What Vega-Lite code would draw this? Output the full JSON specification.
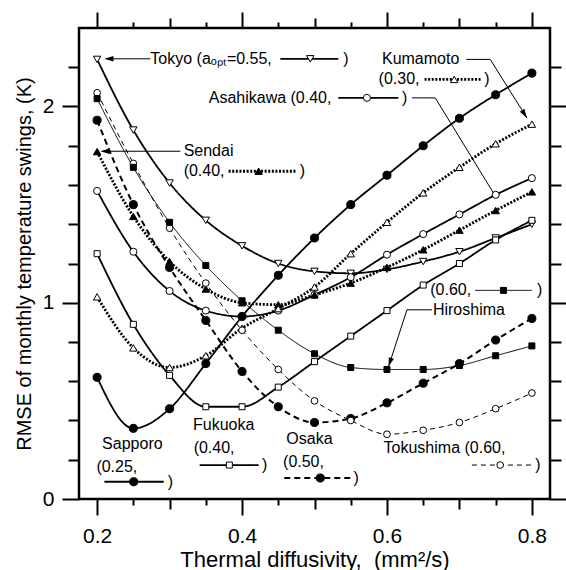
{
  "$schema": "https://vega.github.io/schema/vega-lite/v6.json",
  "width": 471,
  "height": 471,
  "autosize": {"type": "none"},
  "padding": {"left": 79, "top": 28, "right": 16, "bottom": 71},
  "background": "white",
  "config": {
    "view": {"stroke": "black", "strokeWidth": 2.5},
    "axis": {"grid": false, "domain": false, "tickColor": "black", "tickWidth": 2, "labelColor": "black", "titleColor": "black", "labelFont": "Liberation Sans", "titleFont": "Liberation Sans", "labelFontSize": 21, "titleFontSize": 21, "titleFontWeight": "normal"},
    "text": {"font": "Liberation Sans"}
  },
  "resolve": {"axis": {"x": "independent", "y": "independent"}},
  "datasets": {
    "series": [
      {"city": "Tokyo", "x": 0.2, "y": 2.24}, {"city": "Tokyo", "x": 0.25, "y": 1.88}, {"city": "Tokyo", "x": 0.3, "y": 1.61}, {"city": "Tokyo", "x": 0.35, "y": 1.42}, {"city": "Tokyo", "x": 0.4, "y": 1.29}, {"city": "Tokyo", "x": 0.45, "y": 1.2}, {"city": "Tokyo", "x": 0.5, "y": 1.16}, {"city": "Tokyo", "x": 0.55, "y": 1.15}, {"city": "Tokyo", "x": 0.6, "y": 1.17}, {"city": "Tokyo", "x": 0.65, "y": 1.21}, {"city": "Tokyo", "x": 0.7, "y": 1.26}, {"city": "Tokyo", "x": 0.75, "y": 1.33}, {"city": "Tokyo", "x": 0.8, "y": 1.4},
      {"city": "Asahikawa", "x": 0.2, "y": 1.57}, {"city": "Asahikawa", "x": 0.25, "y": 1.26}, {"city": "Asahikawa", "x": 0.3, "y": 1.06}, {"city": "Asahikawa", "x": 0.35, "y": 0.96}, {"city": "Asahikawa", "x": 0.4, "y": 0.93}, {"city": "Asahikawa", "x": 0.45, "y": 0.96}, {"city": "Asahikawa", "x": 0.5, "y": 1.04}, {"city": "Asahikawa", "x": 0.55, "y": 1.13}, {"city": "Asahikawa", "x": 0.6, "y": 1.245}, {"city": "Asahikawa", "x": 0.65, "y": 1.35}, {"city": "Asahikawa", "x": 0.7, "y": 1.45}, {"city": "Asahikawa", "x": 0.75, "y": 1.55}, {"city": "Asahikawa", "x": 0.8, "y": 1.635},
      {"city": "Sendai", "x": 0.2, "y": 1.77}, {"city": "Sendai", "x": 0.25, "y": 1.44}, {"city": "Sendai", "x": 0.3, "y": 1.21}, {"city": "Sendai", "x": 0.35, "y": 1.07}, {"city": "Sendai", "x": 0.4, "y": 1.0}, {"city": "Sendai", "x": 0.45, "y": 0.99}, {"city": "Sendai", "x": 0.5, "y": 1.04}, {"city": "Sendai", "x": 0.55, "y": 1.1}, {"city": "Sendai", "x": 0.6, "y": 1.18}, {"city": "Sendai", "x": 0.65, "y": 1.27}, {"city": "Sendai", "x": 0.7, "y": 1.37}, {"city": "Sendai", "x": 0.75, "y": 1.47}, {"city": "Sendai", "x": 0.8, "y": 1.565},
      {"city": "Kumamoto", "x": 0.2, "y": 1.03}, {"city": "Kumamoto", "x": 0.25, "y": 0.77}, {"city": "Kumamoto", "x": 0.3, "y": 0.67}, {"city": "Kumamoto", "x": 0.35, "y": 0.73}, {"city": "Kumamoto", "x": 0.4, "y": 0.87}, {"city": "Kumamoto", "x": 0.45, "y": 0.97}, {"city": "Kumamoto", "x": 0.5, "y": 1.08}, {"city": "Kumamoto", "x": 0.55, "y": 1.25}, {"city": "Kumamoto", "x": 0.6, "y": 1.41}, {"city": "Kumamoto", "x": 0.65, "y": 1.56}, {"city": "Kumamoto", "x": 0.7, "y": 1.69}, {"city": "Kumamoto", "x": 0.75, "y": 1.81}, {"city": "Kumamoto", "x": 0.8, "y": 1.91},
      {"city": "Sapporo", "x": 0.2, "y": 0.62}, {"city": "Sapporo", "x": 0.25, "y": 0.36}, {"city": "Sapporo", "x": 0.3, "y": 0.46}, {"city": "Sapporo", "x": 0.35, "y": 0.69}, {"city": "Sapporo", "x": 0.4, "y": 0.93}, {"city": "Sapporo", "x": 0.45, "y": 1.14}, {"city": "Sapporo", "x": 0.5, "y": 1.33}, {"city": "Sapporo", "x": 0.55, "y": 1.5}, {"city": "Sapporo", "x": 0.6, "y": 1.65}, {"city": "Sapporo", "x": 0.65, "y": 1.8}, {"city": "Sapporo", "x": 0.7, "y": 1.94}, {"city": "Sapporo", "x": 0.75, "y": 2.06}, {"city": "Sapporo", "x": 0.8, "y": 2.17},
      {"city": "Fukuoka", "x": 0.2, "y": 1.25}, {"city": "Fukuoka", "x": 0.25, "y": 0.89}, {"city": "Fukuoka", "x": 0.3, "y": 0.63}, {"city": "Fukuoka", "x": 0.35, "y": 0.47}, {"city": "Fukuoka", "x": 0.4, "y": 0.47}, {"city": "Fukuoka", "x": 0.45, "y": 0.57}, {"city": "Fukuoka", "x": 0.5, "y": 0.7}, {"city": "Fukuoka", "x": 0.55, "y": 0.83}, {"city": "Fukuoka", "x": 0.6, "y": 0.96}, {"city": "Fukuoka", "x": 0.65, "y": 1.09}, {"city": "Fukuoka", "x": 0.7, "y": 1.2}, {"city": "Fukuoka", "x": 0.75, "y": 1.32}, {"city": "Fukuoka", "x": 0.8, "y": 1.42},
      {"city": "Osaka", "x": 0.2, "y": 1.93}, {"city": "Osaka", "x": 0.25, "y": 1.5}, {"city": "Osaka", "x": 0.3, "y": 1.18}, {"city": "Osaka", "x": 0.35, "y": 0.91}, {"city": "Osaka", "x": 0.4, "y": 0.65}, {"city": "Osaka", "x": 0.45, "y": 0.47}, {"city": "Osaka", "x": 0.5, "y": 0.39}, {"city": "Osaka", "x": 0.55, "y": 0.41}, {"city": "Osaka", "x": 0.6, "y": 0.49}, {"city": "Osaka", "x": 0.65, "y": 0.59}, {"city": "Osaka", "x": 0.7, "y": 0.69}, {"city": "Osaka", "x": 0.75, "y": 0.81}, {"city": "Osaka", "x": 0.8, "y": 0.92},
      {"city": "Tokushima", "x": 0.2, "y": 2.07}, {"city": "Tokushima", "x": 0.25, "y": 1.71}, {"city": "Tokushima", "x": 0.3, "y": 1.38}, {"city": "Tokushima", "x": 0.35, "y": 1.1}, {"city": "Tokushima", "x": 0.4, "y": 0.86}, {"city": "Tokushima", "x": 0.45, "y": 0.66}, {"city": "Tokushima", "x": 0.5, "y": 0.5}, {"city": "Tokushima", "x": 0.55, "y": 0.4}, {"city": "Tokushima", "x": 0.6, "y": 0.33}, {"city": "Tokushima", "x": 0.65, "y": 0.35}, {"city": "Tokushima", "x": 0.7, "y": 0.39}, {"city": "Tokushima", "x": 0.75, "y": 0.46}, {"city": "Tokushima", "x": 0.8, "y": 0.54},
      {"city": "Hiroshima", "x": 0.2, "y": 2.04}, {"city": "Hiroshima", "x": 0.25, "y": 1.69}, {"city": "Hiroshima", "x": 0.3, "y": 1.41}, {"city": "Hiroshima", "x": 0.35, "y": 1.19}, {"city": "Hiroshima", "x": 0.4, "y": 1.01}, {"city": "Hiroshima", "x": 0.45, "y": 0.86}, {"city": "Hiroshima", "x": 0.5, "y": 0.74}, {"city": "Hiroshima", "x": 0.55, "y": 0.67}, {"city": "Hiroshima", "x": 0.6, "y": 0.66}, {"city": "Hiroshima", "x": 0.65, "y": 0.66}, {"city": "Hiroshima", "x": 0.7, "y": 0.68}, {"city": "Hiroshima", "x": 0.75, "y": 0.73}, {"city": "Hiroshima", "x": 0.8, "y": 0.78}
    ],
    "samples": [
      {"city": "Tokyo", "x": 0.4529, "y": 2.243}, {"city": "Tokyo", "x": 0.533, "y": 2.243},
      {"city": "Asahikawa", "x": 0.5328, "y": 2.044}, {"city": "Asahikawa", "x": 0.6156, "y": 2.044},
      {"city": "Kumamoto", "x": 0.6519, "y": 2.138}, {"city": "Kumamoto", "x": 0.731, "y": 2.138},
      {"city": "Sendai", "x": 0.3815, "y": 1.67}, {"city": "Sendai", "x": 0.4749, "y": 1.67},
      {"city": "Hiroshima", "x": 0.7218, "y": 1.063}, {"city": "Hiroshima", "x": 0.8, "y": 1.063},
      {"city": "Sapporo", "x": 0.2101, "y": 0.088}, {"city": "Sapporo", "x": 0.2919, "y": 0.088},
      {"city": "Fukuoka", "x": 0.3415, "y": 0.173}, {"city": "Fukuoka", "x": 0.4229, "y": 0.173},
      {"city": "Osaka", "x": 0.4583, "y": 0.107}, {"city": "Osaka", "x": 0.5494, "y": 0.107},
      {"city": "Tokushima", "x": 0.7172, "y": 0.173}, {"city": "Tokushima", "x": 0.8, "y": 0.173}
    ],
    "sampleMarks": [
      {"city": "Tokyo", "x": 0.4942, "y": 2.243},
      {"city": "Asahikawa", "x": 0.5724, "y": 2.044},
      {"city": "Kumamoto", "x": 0.6928, "y": 2.138},
      {"city": "Sendai", "x": 0.4229, "y": 1.67},
      {"city": "Hiroshima", "x": 0.7608, "y": 1.063},
      {"city": "Sapporo", "x": 0.2505, "y": 0.088},
      {"city": "Fukuoka", "x": 0.3825, "y": 0.173},
      {"city": "Osaka", "x": 0.508, "y": 0.107},
      {"city": "Tokushima", "x": 0.7563, "y": 0.173}
    ],
    "texts": [
      {"label": "Tokyo (aₒₚₜ=0.55,", "x": 0.2735, "y": 2.243},
      {"label": ")", "x": 0.5397, "y": 2.243},
      {"label": "Asahikawa (0.40,", "x": 0.354, "y": 2.044},
      {"label": ")", "x": 0.6207, "y": 2.044},
      {"label": "Kumamoto", "x": 0.5931, "y": 2.24},
      {"label": "(0.30,", "x": 0.5884, "y": 2.138},
      {"label": ")", "x": 0.7342, "y": 2.138},
      {"label": "Sendai", "x": 0.3194, "y": 1.772},
      {"label": "(0.40,", "x": 0.3194, "y": 1.67},
      {"label": ")", "x": 0.4795, "y": 1.67},
      {"label": "(0.60,", "x": 0.6597, "y": 1.063},
      {"label": ")", "x": 0.8069, "y": 1.063},
      {"label": "Hiroshima", "x": 0.6634, "y": 0.964},
      {"label": "Sapporo", "x": 0.2069, "y": 0.279},
      {"label": "(0.25,", "x": 0.199, "y": 0.165},
      {"label": ")", "x": 0.2974, "y": 0.088},
      {"label": "Fukuoka", "x": 0.3324, "y": 0.378},
      {"label": "(0.40,", "x": 0.3332, "y": 0.259},
      {"label": ")", "x": 0.4276, "y": 0.173},
      {"label": "Osaka", "x": 0.4611, "y": 0.305},
      {"label": "(0.50,", "x": 0.4566, "y": 0.19},
      {"label": ")", "x": 0.5539, "y": 0.107},
      {"label": "Tokushima (0.60,", "x": 0.5953, "y": 0.259},
      {"label": ")", "x": 0.8046, "y": 0.173}
    ],
    "leaders": [
      {"x": 0.2735, "y": 2.243, "x2": 0.212, "y2": 2.243},
      {"x": 0.3149, "y": 1.772, "x2": 0.207, "y2": 1.772},
      {"x": 0.7094, "y": 2.24, "x2": 0.7425, "y2": 2.24},
      {"x": 0.7425, "y": 2.24, "x2": 0.7931, "y2": 1.942},
      {"x": 0.6345, "y": 2.044, "x2": 0.6666, "y2": 2.044},
      {"x": 0.6666, "y": 2.044, "x2": 0.7467, "y2": 1.561},
      {"x": 0.6621, "y": 0.964, "x2": 0.6276, "y2": 0.964},
      {"x": 0.6276, "y": 0.964, "x2": 0.6022, "y2": 0.675}
    ]
  },
  "layer": [
    {
      "data": {"name": "series"},
      "mark": {"type": "line", "color": "black", "interpolate": "monotone"},
      "encoding": {
        "x": {"field": "x", "type": "quantitative", "scale": {"domain": [0.175, 0.825], "nice": false, "zero": false},
          "axis": {"orient": "bottom", "values": [0.2, 0.4, 0.6, 0.8], "tickSize": 16, "labelPadding": 10, "format": ".1f", "title": "Thermal diffusivity,\u00a0\u00a0(mm²/s)", "titleFontSize": 22, "titlePadding": 3}},
        "y": {"field": "y", "type": "quantitative", "scale": {"domain": [0, 2.4], "nice": false, "zero": false},
          "axis": {"orient": "left", "values": [0, 1, 2], "tickSize": 17, "labelPadding": 8, "format": "d", "title": "RMSE of monthly temperature swings, (K)", "titleFontSize": 20, "titlePadding": 8}},
        "strokeDash": {"field": "city", "type": "nominal", "legend": null,
          "scale": {"domain": ["Tokyo", "Asahikawa", "Sendai", "Kumamoto", "Sapporo", "Fukuoka", "Osaka", "Hiroshima", "Tokushima"],
            "range": [[1, 0], [1, 0], [2, 1.6], [2, 1.6], [1, 0], [1, 0], [6, 4], [1, 0], [5, 4]]}},
        "strokeWidth": {"field": "city", "type": "nominal", "legend": null,
          "scale": {"type": "ordinal", "domain": ["Tokyo", "Asahikawa", "Sendai", "Kumamoto", "Sapporo", "Fukuoka", "Osaka", "Hiroshima", "Tokushima"],
            "range": [1.8, 1.8, 2.8, 2.8, 1.8, 1.8, 2, 1, 1]}}
      }
    },
    {
      "data": {"name": "series"},
      "mark": {"type": "point", "filled": true, "stroke": "black", "strokeWidth": 1, "opacity": 1},
      "encoding": {
        "x": {"field": "x", "type": "quantitative", "axis": {"orient": "bottom", "values": [0.3, 0.5, 0.7], "tickSize": 10, "labels": false, "title": null}},
        "y": {"field": "y", "type": "quantitative", "axis": {"orient": "left", "values": [0.2, 0.4, 0.6, 0.8, 1.2, 1.4, 1.6, 1.8, 2.2], "tickSize": 11, "labels": false, "title": null}},
        "shape": {"field": "city", "type": "nominal", "legend": null,
          "scale": {"domain": ["Tokyo", "Asahikawa", "Sendai", "Kumamoto", "Sapporo", "Fukuoka", "Osaka", "Hiroshima", "Tokushima"],
            "range": ["triangle-down", "circle", "triangle-up", "triangle-up", "circle", "square", "circle", "square", "circle"]}},
        "fill": {"field": "city", "type": "nominal", "legend": null,
          "scale": {"domain": ["Tokyo", "Asahikawa", "Sendai", "Kumamoto", "Sapporo", "Fukuoka", "Osaka", "Hiroshima", "Tokushima"],
            "range": ["white", "white", "black", "white", "black", "white", "black", "black", "white"]}},
        "size": {"field": "city", "type": "nominal", "legend": null,
          "scale": {"type": "ordinal", "domain": ["Tokyo", "Asahikawa", "Sendai", "Kumamoto", "Sapporo", "Fukuoka", "Osaka", "Hiroshima", "Tokushima"],
            "range": [55, 50, 55, 55, 65, 36, 65, 36, 45]}}
      }
    },
    {
      "data": {"name": "samples"},
      "mark": {"type": "line", "color": "black"},
      "encoding": {
        "x": {"field": "x", "type": "quantitative", "axis": {"orient": "bottom", "values": [0.25, 0.35, 0.45, 0.55, 0.65, 0.75], "tickSize": 6, "labels": false, "title": null}},
        "y": {"field": "y", "type": "quantitative", "axis": {"orient": "right", "values": [0, 1, 2], "tickSize": 17, "labels": false, "title": null}},
        "strokeDash": {"field": "city", "type": "nominal", "legend": null,
          "scale": {"domain": ["Tokyo", "Asahikawa", "Sendai", "Kumamoto", "Sapporo", "Fukuoka", "Osaka", "Hiroshima", "Tokushima"],
            "range": [[1, 0], [1, 0], [2, 1.6], [2, 1.6], [1, 0], [1, 0], [6, 4], [1, 0], [5, 4]]}},
        "strokeWidth": {"field": "city", "type": "nominal", "legend": null,
          "scale": {"type": "ordinal", "domain": ["Tokyo", "Asahikawa", "Sendai", "Kumamoto", "Sapporo", "Fukuoka", "Osaka", "Hiroshima", "Tokushima"],
            "range": [1.8, 1.8, 2.8, 2.8, 1.8, 1.8, 2, 1, 1]}}
      }
    },
    {
      "data": {"name": "sampleMarks"},
      "mark": {"type": "point", "filled": true, "stroke": "black", "strokeWidth": 1, "opacity": 1},
      "encoding": {
        "x": {"field": "x", "type": "quantitative", "axis": {"orient": "top", "values": [0.2, 0.4, 0.6, 0.8], "tickSize": 16, "labels": false, "title": null}},
        "y": {"field": "y", "type": "quantitative", "axis": {"orient": "right", "values": [0.2, 0.4, 0.6, 0.8, 1.2, 1.4, 1.6, 1.8, 2.2], "tickSize": 11, "labels": false, "title": null}},
        "shape": {"field": "city", "type": "nominal", "legend": null,
          "scale": {"domain": ["Tokyo", "Asahikawa", "Sendai", "Kumamoto", "Sapporo", "Fukuoka", "Osaka", "Hiroshima", "Tokushima"],
            "range": ["triangle-down", "circle", "triangle-up", "triangle-up", "circle", "square", "circle", "square", "circle"]}},
        "fill": {"field": "city", "type": "nominal", "legend": null,
          "scale": {"domain": ["Tokyo", "Asahikawa", "Sendai", "Kumamoto", "Sapporo", "Fukuoka", "Osaka", "Hiroshima", "Tokushima"],
            "range": ["white", "white", "black", "white", "black", "white", "black", "black", "white"]}},
        "size": {"field": "city", "type": "nominal", "legend": null,
          "scale": {"type": "ordinal", "domain": ["Tokyo", "Asahikawa", "Sendai", "Kumamoto", "Sapporo", "Fukuoka", "Osaka", "Hiroshima", "Tokushima"],
            "range": [55, 50, 55, 55, 65, 36, 65, 36, 45]}}
      }
    },
    {
      "data": {"name": "texts"},
      "mark": {"type": "text", "align": "left", "baseline": "middle", "fontSize": 16, "font": "Liberation Sans", "color": "black"},
      "encoding": {
        "x": {"field": "x", "type": "quantitative", "axis": {"orient": "top", "values": [0.3, 0.5, 0.7], "tickSize": 10, "labels": false, "title": null}},
        "y": {"field": "y", "type": "quantitative", "axis": null},
        "text": {"field": "label"}
      }
    },
    {
      "data": {"name": "leaders"},
      "mark": {"type": "rule", "color": "black", "strokeWidth": 1},
      "encoding": {
        "x": {"field": "x", "type": "quantitative", "axis": {"orient": "top", "values": [0.25, 0.35, 0.45, 0.55, 0.65, 0.75], "tickSize": 6, "labels": false, "title": null}},
        "y": {"field": "y", "type": "quantitative", "axis": null},
        "x2": {"field": "x2"},
        "y2": {"field": "y2"}
      }
    },
    {
      "data": {"values": [{"x": 0.2101, "y": 2.243}, {"x": 0.2046, "y": 1.772}]},
      "mark": {"type": "point", "shape": "M0,0L-0.3,1L0.3,1Z", "filled": true, "color": "black", "opacity": 1, "size": 324, "angle": 270},
      "encoding": {"x": {"field": "x", "type": "quantitative", "axis": null}, "y": {"field": "y", "type": "quantitative", "axis": null}}
    },
    {
      "data": {"values": [{"x": 0.7931, "y": 1.942}]},
      "mark": {"type": "point", "shape": "M0,0L-0.3,1L0.3,1Z", "filled": true, "color": "black", "opacity": 1, "size": 324, "angle": 148},
      "encoding": {"x": {"field": "x", "type": "quantitative", "axis": null}, "y": {"field": "y", "type": "quantitative", "axis": null}}
    },
    {
      "data": {"values": [{"x": 0.6022, "y": 0.675}]},
      "mark": {"type": "point", "shape": "M0,0L-0.3,1L0.3,1Z", "filled": true, "color": "black", "opacity": 1, "size": 324, "angle": 198},
      "encoding": {"x": {"field": "x", "type": "quantitative", "axis": null}, "y": {"field": "y", "type": "quantitative", "axis": null}}
    }
  ]
}
